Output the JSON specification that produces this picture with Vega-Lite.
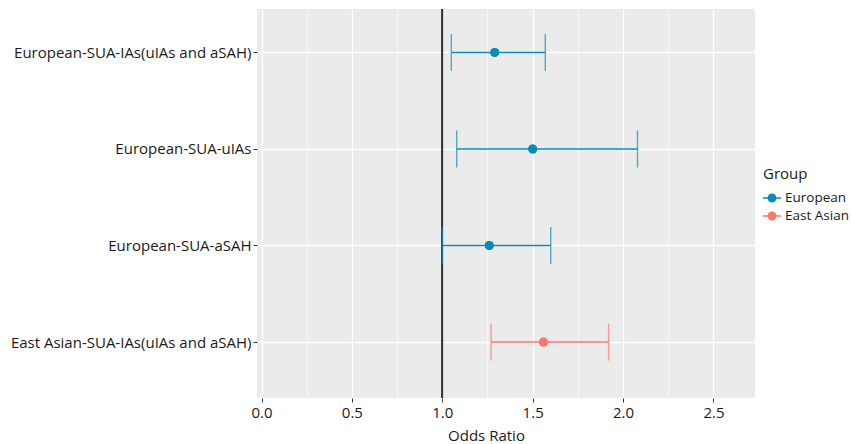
{
  "$schema": "https://vega.github.io/schema/vega-lite/v6.json",
  "width": 498,
  "height": 389,
  "autosize": {"type": "none"},
  "padding": {"left": 257, "top": 9, "right": 96, "bottom": 46},
  "background": "white",
  "config": {
    "view": {"fill": "#EBEBEB", "stroke": null},
    "font": "Open Sans",
    "axis": {"grid": true, "gridColor": "white"}
  },
  "data": {
    "values": [
      {"Outcome": "European-SUA-IAs(uIAs and aSAH)", "Group": "European", "OR": 1.29, "Lower": 1.05, "Upper": 1.57},
      {"Outcome": "European-SUA-uIAs", "Group": "European", "OR": 1.50, "Lower": 1.08, "Upper": 2.08},
      {"Outcome": "European-SUA-aSAH", "Group": "European", "OR": 1.26, "Lower": 1.00, "Upper": 1.60},
      {"Outcome": "East Asian-SUA-IAs(uIAs and aSAH)", "Group": "East Asian", "OR": 1.56, "Lower": 1.27, "Upper": 1.92}
    ]
  },
  "encoding": {
    "y": {
      "field": "Outcome",
      "type": "nominal",
      "sort": null,
      "title": null,
      "scale": {"type": "point", "padding": 0.515, "align": 0.437},
      "axis": {
        "gridColor": "white",
        "gridWidth": 1.3,
        "grid": true,
        "domain": false,
        "tickColor": "#333333",
        "tickSize": 4,
        "labelPadding": 2,
        "labelFontSize": 15,
        "labelColor": "#1a1a1a",
        "labelLimit": 300
      }
    },
    "color": {
      "field": "Group",
      "type": "nominal",
      "scale": {"domain": ["European", "East Asian"], "range": ["#0C8BB7", "#F8766D"]},
      "legend": {
        "orient": "none",
        "legendX": 506,
        "legendY": 158,
        "title": "Group",
        "titleFontSize": 15,
        "titleFontWeight": "normal",
        "titleColor": "#1a1a1a",
        "titlePadding": 7,
        "labelFontSize": 13.5,
        "labelColor": "#1a1a1a",
        "symbolType": "M-1,-0.09H1V0.09H-1Z M0.5,0A0.5,0.5,0,1,1,-0.5,0A0.5,0.5,0,1,1,0.5,0Z",
        "symbolSize": 324,
        "symbolStrokeWidth": 0,
        "rowPadding": 2
      }
    }
  },
  "layer": [
    {
      "mark": {"type": "point", "filled": true, "shape": "circle", "size": 80, "opacity": 1},
      "encoding": {
        "x": {
          "field": "OR",
          "type": "quantitative",
          "title": "Odds Ratio",
          "scale": {"domain": [-0.025, 2.73], "nice": false, "zero": false},
          "axis": {
            "values": [0, 0.25, 0.5, 0.75, 1, 1.25, 1.5, 1.75, 2, 2.25, 2.5],
            "labelExpr": "(datum.value * 2) % 1 == 0 ? format(datum.value, '.1f') : ''",
            "grid": true,
            "gridColor": "white",
            "gridWidth": {"condition": {"test": "(datum.value * 2) % 1 != 0", "value": 0.6}, "value": 1.3},
            "tickOpacity": {"condition": {"test": "(datum.value * 2) % 1 != 0", "value": 0}, "value": 1},
            "tickColor": "#333333",
            "tickSize": 4,
            "domain": false,
            "labelFontSize": 15,
            "labelColor": "#1a1a1a",
            "labelPadding": 3,
            "titleFontSize": 15,
            "titleFontWeight": "normal",
            "titleColor": "#1a1a1a",
            "titlePadding": 8,
            "titleX": 229
          }
        }
      }
    },
    {
      "mark": {"type": "rule", "color": "#333333", "strokeWidth": 1.5},
      "encoding": {"x": {"datum": 1, "type": "quantitative"}, "y": null, "color": null}
    },
    {
      "mark": {"type": "rule", "strokeWidth": 1.4},
      "encoding": {
        "x": {"field": "Lower", "type": "quantitative"},
        "x2": {"field": "Upper"}
      }
    },
    {
      "mark": {"type": "tick", "size": 37, "thickness": 1.4},
      "encoding": {
        "x": {"field": "Lower", "type": "quantitative"}
      }
    },
    {
      "mark": {"type": "tick", "size": 37, "thickness": 1.4},
      "encoding": {
        "x": {"field": "Upper", "type": "quantitative"}
      }
    },
    {
      "mark": {"type": "point", "filled": true, "shape": "circle", "size": 80, "opacity": 1},
      "encoding": {
        "x": {"field": "OR", "type": "quantitative"}
      }
    }
  ]
}
